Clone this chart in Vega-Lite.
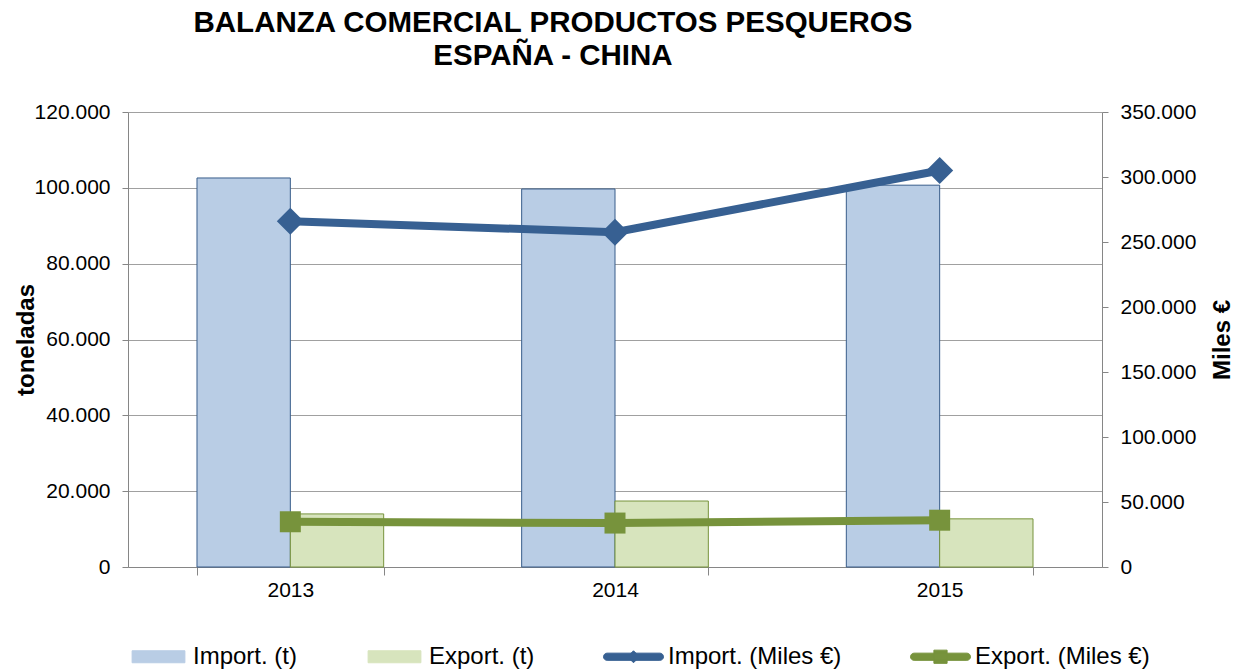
{
  "$schema": "https://vega.github.io/schema/vega-lite/v6.json",
  "width": 974,
  "height": 455,
  "autosize": {"type": "none"},
  "padding": {"left": 128, "top": 112, "right": 141, "bottom": 104},
  "background": "white",
  "title": {
    "text": ["BALANZA COMERCIAL PRODUCTOS PESQUEROS", "ESPAÑA - CHINA"],
    "font": "Liberation Sans",
    "fontSize": 29.5,
    "fontWeight": "bold",
    "lineHeight": 33,
    "color": "#000000",
    "anchor": "middle",
    "frame": "group",
    "dx": -62,
    "offset": 30
  },
  "datasets": {
    "valores": [
      {"anio": "2013", "serie": "Import. (t)", "valor": 102600},
      {"anio": "2014", "serie": "Import. (t)", "valor": 99700},
      {"anio": "2015", "serie": "Import. (t)", "valor": 100700},
      {"anio": "2013", "serie": "Export. (t)", "valor": 14000},
      {"anio": "2014", "serie": "Export. (t)", "valor": 17400},
      {"anio": "2015", "serie": "Export. (t)", "valor": 12700},
      {"anio": "2013", "serie": "Import. (Miles €)", "valor": 266000},
      {"anio": "2014", "serie": "Import. (Miles €)", "valor": 257500},
      {"anio": "2015", "serie": "Import. (Miles €)", "valor": 305000},
      {"anio": "2013", "serie": "Export. (Miles €)", "valor": 34800},
      {"anio": "2014", "serie": "Export. (Miles €)", "valor": 33800},
      {"anio": "2015", "serie": "Export. (Miles €)", "valor": 36000}
    ]
  },
  "data": {"name": "valores"},
  "encoding": {
    "x": {
      "field": "anio",
      "type": "nominal",
      "title": null,
      "scale": {"paddingInner": 0.425, "paddingOuter": 0.2125},
      "axis": {
        "labelAngle": 0,
        "tickBand": "extent",
        "tickSize": 8,
        "labelPadding": 4,
        "labelFontSize": 21,
        "labelColor": "#000000",
        "domainColor": "#868686",
        "tickColor": "#868686",
        "grid": false
      }
    },
    "color": {
      "field": "serie",
      "type": "nominal",
      "scale": {
        "domain": ["Import. (t)", "Export. (t)", "Import. (Miles €)", "Export. (Miles €)"],
        "range": ["#b9cde5", "#d7e4bd", "#376092", "#77933c"]
      },
      "legend": {
        "title": null,
        "orient": "bottom",
        "direction": "horizontal",
        "offset": 26,
        "labelFontSize": 24,
        "labelColor": "#000000",
        "labelOffset": 4,
        "labelLimit": 400,
        "columnPadding": 66,
        "symbolSize": 3600,
        "symbolStrokeWidth": 1,
        "encode": {
          "symbols": {
            "enter": {
              "size": {"value": 3600}
            },
            "update": {
              "size": {"value": 3600},
              "strokeWidth": {"value": 1},
              "shape": {"signal": "(datum.value === 'Import. (t)' || datum.value === 'Export. (t)') ? 'M-0.88,-0.2H0.88V0.2H-0.88Z' : (datum.value === 'Import. (Miles €)' ? 'M-0.88,-0.12H0.88A0.12,0.12 0 0 1 0.88,0.12H-0.88A0.12,0.12 0 0 1 -0.88,-0.12ZM0,-0.2L0.2,0L0,0.2L-0.2,0Z' : 'M-0.88,-0.12H0.88A0.12,0.12 0 0 1 0.88,0.12H-0.88A0.12,0.12 0 0 1 -0.88,-0.12ZM-0.22,-0.22H0.22V0.22H-0.22Z')"},
              "fill": {"scale": "color", "field": "value"},
              "stroke": {"signal": "datum.value === 'Import. (t)' ? '#385d8a' : (datum.value === 'Export. (t)' ? '#77933c' : 'transparent')"},
              "opacity": {"value": 1},
              "fillOpacity": {"value": 1}
            }
          }
        }
      }
    }
  },
  "layer": [
    {
      "transform": [{"filter": {"field": "serie", "oneOf": ["Import. (t)", "Export. (t)"]}}],
      "mark": {"type": "bar", "strokeWidth": 1, "opacity": 1},
      "encoding": {
        "xOffset": {
          "field": "serie",
          "type": "nominal",
          "sort": ["Import. (t)", "Export. (t)"],
          "scale": {"paddingInner": 0, "paddingOuter": 0}
        },
        "y": {
          "field": "valor",
          "type": "quantitative",
          "title": "toneladas",
          "scale": {"domain": [0, 120000], "nice": false},
          "axis": {
            "orient": "left",
            "values": [0, 20000, 40000, 60000, 80000, 100000, 120000],
            "format": ",.0f",
            "tickSize": 6,
            "labelPadding": 12,
            "labelFontSize": 21,
            "labelColor": "#000000",
            "titleFontSize": 24,
            "titleFontWeight": "bold",
            "titleColor": "#000000",
            "titlePadding": -4,
            "domainColor": "#868686",
            "tickColor": "#868686",
            "grid": true,
            "gridColor": "#a0a0a0",
            "gridWidth": 1
          }
        },
        "stroke": {
          "field": "serie",
          "type": "nominal",
          "scale": {"domain": ["Import. (t)", "Export. (t)"], "range": ["#385d8a", "#77933c"]},
          "legend": null
        }
      }
    },
    {
      "transform": [{"filter": {"field": "serie", "oneOf": ["Import. (Miles €)", "Export. (Miles €)"]}}],
      "encoding": {
        "y": {
          "field": "valor",
          "type": "quantitative",
          "title": "Miles €",
          "scale": {"domain": [0, 350000], "nice": false},
          "axis": {
            "orient": "right",
            "values": [0, 50000, 100000, 150000, 200000, 250000, 300000, 350000],
            "format": ",.0f",
            "tickSize": 6,
            "labelPadding": 12,
            "labelFontSize": 21,
            "labelColor": "#000000",
            "titleFontSize": 24,
            "titleFontWeight": "bold",
            "titleColor": "#000000",
            "titleAngle": 270,
            "titleBaseline": "top",
            "titlePadding": 15,
            "domainColor": "#868686",
            "tickColor": "#868686",
            "grid": false
          }
        }
      },
      "layer": [
        {
          "mark": {"type": "line", "strokeWidth": 8},
          "encoding": {}
        },
        {
          "mark": {"type": "point", "filled": true, "opacity": 1},
          "encoding": {
            "shape": {
              "field": "serie",
              "type": "nominal",
              "scale": {"domain": ["Import. (Miles €)", "Export. (Miles €)"], "range": ["diamond", "square"]},
              "legend": null
            },
            "size": {
              "field": "serie",
              "type": "nominal",
              "scale": {"domain": ["Import. (Miles €)", "Export. (Miles €)"], "range": [729, 441]},
              "legend": null
            }
          }
        }
      ]
    }
  ],
  "resolve": {"scale": {"y": "independent"}},
  "config": {
    "font": "Liberation Sans",
    "locale": {"number": {"decimal": ",", "thousands": ".", "grouping": [3], "currency": ["", " €"]}},
    "view": {"stroke": null},
    "axis": {"labelFont": "Liberation Sans", "titleFont": "Liberation Sans"},
    "legend": {"labelFont": "Liberation Sans"}
  }
}
